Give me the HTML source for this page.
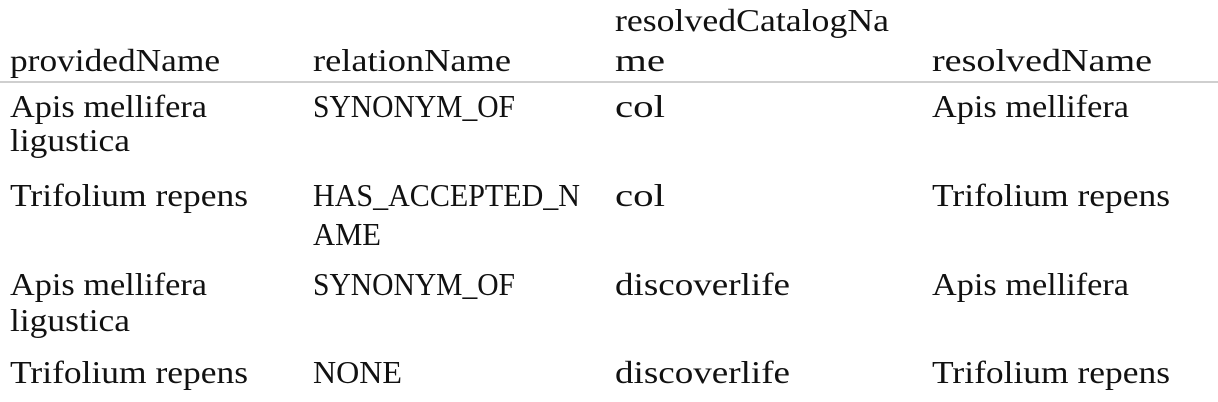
<!DOCTYPE html>
<html><head><style>
body{margin:0;width:1218px;height:402px;background:#fff;overflow:hidden;}
svg{position:absolute;left:0;top:0;}
text{font-family:"Liberation Serif",serif;font-size:32px;fill:#111;}
</style></head><body>
<svg width="1218" height="402" viewBox="0 0 1218 402">
<rect x="0" y="81" width="1218" height="2" fill="#cfcfcf"/>
<text x="10" y="71" textLength="210" lengthAdjust="spacingAndGlyphs">providedName</text>
<text x="313" y="71" textLength="198" lengthAdjust="spacingAndGlyphs">relationName</text>
<text x="615" y="31" textLength="274" lengthAdjust="spacingAndGlyphs">resolvedCatalogNa</text>
<text x="615" y="71" textLength="50" lengthAdjust="spacingAndGlyphs">me</text>
<text x="932" y="71" textLength="220" lengthAdjust="spacingAndGlyphs">resolvedName</text>

<text x="10" y="117" textLength="197" lengthAdjust="spacingAndGlyphs">Apis mellifera</text>
<text x="10" y="151" textLength="120" lengthAdjust="spacingAndGlyphs">ligustica</text>
<text x="313" y="117" textLength="202" lengthAdjust="spacingAndGlyphs">SYNONYM_OF</text>
<text x="615" y="117" textLength="50" lengthAdjust="spacingAndGlyphs">col</text>
<text x="932" y="117" textLength="197" lengthAdjust="spacingAndGlyphs">Apis mellifera</text>

<text x="10" y="206" textLength="238" lengthAdjust="spacingAndGlyphs">Trifolium repens</text>
<text x="313" y="206" textLength="267" lengthAdjust="spacingAndGlyphs">HAS_ACCEPTED_N</text>
<text x="313" y="245" textLength="68" lengthAdjust="spacingAndGlyphs">AME</text>
<text x="615" y="206" textLength="50" lengthAdjust="spacingAndGlyphs">col</text>
<text x="932" y="206" textLength="238" lengthAdjust="spacingAndGlyphs">Trifolium repens</text>

<text x="10" y="295" textLength="197" lengthAdjust="spacingAndGlyphs">Apis mellifera</text>
<text x="10" y="331" textLength="120" lengthAdjust="spacingAndGlyphs">ligustica</text>
<text x="313" y="295" textLength="202" lengthAdjust="spacingAndGlyphs">SYNONYM_OF</text>
<text x="615" y="295" textLength="175" lengthAdjust="spacingAndGlyphs">discoverlife</text>
<text x="932" y="295" textLength="197" lengthAdjust="spacingAndGlyphs">Apis mellifera</text>

<text x="10" y="383" textLength="238" lengthAdjust="spacingAndGlyphs">Trifolium repens</text>
<text x="313" y="383" textLength="89" lengthAdjust="spacingAndGlyphs">NONE</text>
<text x="615" y="383" textLength="175" lengthAdjust="spacingAndGlyphs">discoverlife</text>
<text x="932" y="383" textLength="238" lengthAdjust="spacingAndGlyphs">Trifolium repens</text>
</svg>
</body></html>
